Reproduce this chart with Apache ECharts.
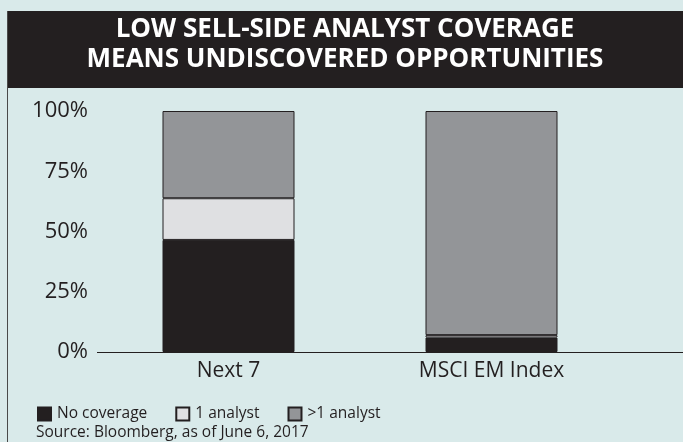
<!DOCTYPE html>
<html><head><meta charset="utf-8">
<script src="https://cdn.jsdelivr.net/npm/echarts@6/dist/echarts.min.js"></script>
<style>html,body{margin:0;padding:0;background:#d9eaea;}#c{width:683px;height:442px;}</style>
</head><body><div id="c"></div>
<script>
const categories = ['Next 7', 'MSCI EM Index'];
const noCoverage = [46.5, 6];
const oneAnalyst = [17.3, 1];
const moreAnalysts = [36.2, 93];
const yTicks = [0, 25, 50, 75, 100];
const seriesNames = ['No coverage', '1 analyst', '>1 analyst'];

const FONT = '"Open Sans", Lato, sans-serif';
const INK = '#231f20';
const chart = echarts.init(document.getElementById('c'), null, {renderer: 'canvas'});
const mk = (name, data, color) => ({
  name, type: 'bar', stack: 'a', data, barWidth: 132,
  itemStyle: {color, borderColor: INK, borderWidth: 1}
});
chart.setOption({
  backgroundColor: '#d9eaea',
  animation: false,
  textStyle: {fontFamily: FONT},
  graphic: [
    {type: 'rect', shape: {x: 7, y: 11, width: 680, height: 77}, style: {fill: INK}, z: 0},
    {type: 'line', shape: {x1: 7.5, y1: 11, x2: 7.5, y2: 442}, style: {stroke: '#4a4a4a', lineWidth: 1}},
    {type: 'text', x: 345, y: 29.5, style: {text: 'LOW SELL-SIDE ANALYST COVERAGE', fill: '#ffffff', font: 'bold 26px ' + FONT, textAlign: 'center', textVerticalAlign: 'middle'}},
    {type: 'text', x: 345, y: 60, style: {text: 'MEANS UNDISCOVERED OPPORTUNITIES', fill: '#ffffff', font: 'bold 26px ' + FONT, textAlign: 'center', textVerticalAlign: 'middle'}},
    {type: 'line', shape: {x1: 97, y1: 352.5, x2: 683, y2: 352.5}, style: {stroke: INK, lineWidth: 1.2}, z: 10},
    {type: 'text', x: 36, y: 433, style: {text: 'Source: Bloomberg, as of June 6, 2017', fill: INK, font: '15.5px ' + FONT, textVerticalAlign: 'middle'}}
  ],
  legend: {
    left: 32, top: 401, itemWidth: 13, itemHeight: 13, itemGap: 28, icon: 'rect',
    textStyle: {fontSize: 15.5, color: INK, fontFamily: FONT, padding: [0, 0, 0, 1]},
    data: seriesNames
  },
  grid: {left: 97, top: 111, width: 526, bottom: 90},
  xAxis: {
    type: 'category', data: categories,
    axisLine: {show: false}, axisTick: {show: false},
    axisLabel: {fontSize: 21, color: INK, margin: 9, fontFamily: FONT}
  },
  yAxis: {
    type: 'value', min: 0, max: 100, interval: 25,
    splitLine: {show: false}, axisLine: {show: false}, axisTick: {show: false},
    axisLabel: {fontSize: 22, color: INK, margin: 9, formatter: v => yTicks.includes(v) ? v + '%' : '', fontFamily: FONT}
  },
  series: [
    mk(seriesNames[0], noCoverage, INK),
    mk(seriesNames[1], oneAnalyst, '#dfe0e2'),
    mk(seriesNames[2], moreAnalysts, '#939598')
  ]
});
</script></body></html>
